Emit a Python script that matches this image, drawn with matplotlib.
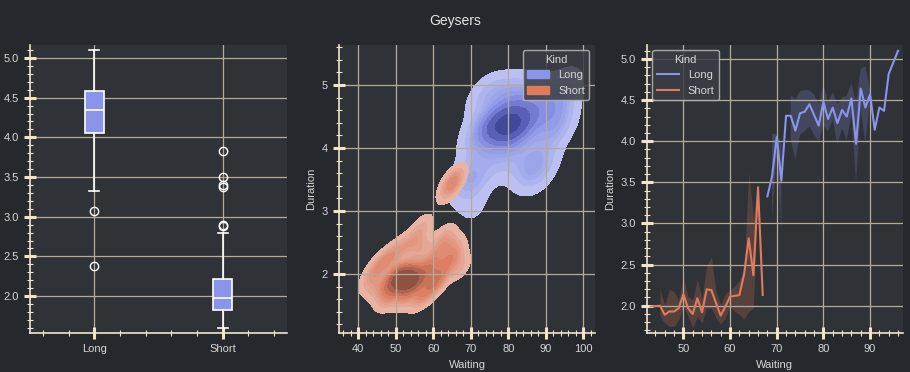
import numpy as np
import matplotlib
matplotlib.use("Agg")
import matplotlib.pyplot as plt
from matplotlib.ticker import AutoMinorLocator, MultipleLocator
from matplotlib.colors import LinearSegmentedColormap
from matplotlib.patches import Patch
from matplotlib.lines import Line2D

# ---- data ----
kinds = ["Long", "Short"]

# box plot stats of duration per kind
box_med = [4.35, 1.98]
box_q1 = [4.05, 1.83]
box_q3 = [4.58, 2.22]
box_lo = [3.32, 1.60]
box_hi = [5.10, 2.80]
box_fliers = [[3.07, 2.38], [2.88, 2.90, 3.37, 3.40, 3.50, 3.83]]

# representative (waiting, duration) points for the density plot
long_w = [68, 69, 70, 71, 72, 73, 74, 75, 76, 77, 78, 79, 80, 81, 82, 83, 84, 85, 86, 87,
          88, 89, 90, 91, 92, 93, 94, 96,
          70, 71, 69, 72, 74, 76, 78, 80, 82, 84, 86, 88, 90, 93, 95, 94, 90, 88, 85, 83,
          80, 77, 75, 73, 79, 80, 81, 82, 78, 79, 81, 83, 77, 80, 84, 76, 86, 89, 84, 95]
long_d = [3.33, 3.57, 4.05, 3.52, 4.31, 4.31, 4.13, 4.34, 4.36, 4.45, 4.32, 4.19, 4.48, 4.27,
          4.41, 4.22, 4.38, 4.30, 4.52, 3.97, 4.64, 4.41, 4.57, 4.14, 4.41, 4.37, 4.82, 5.10,
          3.30, 3.00, 3.60, 4.70, 4.90, 4.95, 4.85, 4.90, 4.95, 4.85, 4.90, 4.80, 4.85, 4.70,
          4.60, 4.30, 3.80, 3.50, 3.60, 3.90, 3.80, 3.90, 3.60, 3.90, 4.50, 4.40, 4.50, 4.30,
          4.30, 4.20, 4.60, 4.40, 4.50, 4.20, 4.60, 4.40, 3.55, 3.80, 3.70, 4.90]
short_w = [50, 51, 52, 53, 53, 54, 55, 52, 54, 51, 56, 49, 50, 55,
           43, 45, 45, 47, 47, 48, 49, 52, 52, 55, 57, 57, 58, 58, 59, 60, 60, 62, 62, 63,
           64, 65, 66, 67, 56, 61,
           64, 65, 66]
short_d = [1.90, 1.85, 1.95, 1.90, 2.00, 1.85, 1.95, 1.80, 2.00, 2.00, 1.90, 1.90, 2.00, 1.80,
           1.90, 1.80, 2.10, 1.70, 2.20, 1.60, 2.30, 2.45, 1.60, 2.50, 2.75, 2.40, 1.70, 2.00,
           2.20, 1.80, 2.10, 2.00, 2.40, 2.60, 2.20, 2.45, 2.30, 2.10, 1.60, 1.90,
           3.32, 3.45, 3.55]

# line plot: mean duration per waiting with confidence band (nan = no band)
long_x = [68, 69, 70, 71, 72, 73, 74, 75, 76, 77, 78, 79, 80, 81, 82, 83, 84, 85, 86, 87,
          88, 89, 90, 91, 92, 93, 94, 96]
long_mean = [3.33, 3.57, 4.05, 3.52, 4.31, 4.31, 4.13, 4.34, 4.36, 4.45, 4.32, 4.19, 4.48, 4.27,
             4.41, 4.22, 4.38, 4.30, 4.52, 3.97, 4.64, 4.41, 4.57, 4.14, 4.41, 4.37, 4.82, 5.10]
long_lo = [np.nan, 3.08, 3.85, 2.92, np.nan, 4.02, 3.78, 4.08, 4.12, 4.18, 4.08, 4.00, 4.20, 4.12,
           4.26, 3.96, 4.16, 4.02, 4.32, 3.51, 4.39, 3.98, 4.52, np.nan, np.nan, 4.10, np.nan, np.nan]
long_hi = [np.nan, 4.09, 4.09, 3.98, np.nan, 4.56, 4.51, 4.61, 4.62, 4.62, 4.57, 4.45, 4.69, 4.48,
           4.59, 4.45, 4.53, 4.55, 4.71, 4.47, 4.88, 4.91, 4.62, np.nan, np.nan, 4.63, np.nan, np.nan]

short_x = [43, 45, 46, 47, 48, 49, 50, 51, 52, 53, 54, 55, 56, 57, 58, 59, 60, 61, 62, 63,
           64, 65, 66, 67]
short_mean = [1.99, 2.00, 1.89, 1.93, 1.93, 1.97, 2.14, 1.97, 1.90, 2.09, 1.92, 2.20, 2.19, 2.03,
              1.88, 1.99, 2.11, 2.12, 2.13, 2.38, 2.82, 2.37, 3.44, 2.13]
short_lo = [np.nan, 1.87, 1.79, 1.75, 1.75, 1.83, 1.99, 1.87, 1.73, 1.87, 1.79, 1.97, 1.97, 1.85,
            1.78, 1.85, 1.99, 1.93, 1.89, 1.84, 1.93, 1.97, 3.38, np.nan]
short_hi = [np.nan, 2.20, 2.01, 2.20, 2.17, 2.07, 2.34, 2.11, 2.07, 2.32, 2.09, 2.49, 2.59, 2.17,
            2.01, 2.15, 2.19, 2.24, 2.31, 2.44, 3.62, 3.08, 3.50, np.nan]

# ---- style ----
FIG_BG = "#25282c"
AX_BG = "#2f3237"
CREAM = "#f2e4c6"
GRID = "#b4ab99"
TXT = "#d6d6d6"
C_LONG = "#8a94ea"
C_SHORT = "#e07b5c"

plt.rcParams["font.family"] = ["Liberation Sans", "DejaVu Sans"]
plt.rcParams["font.size"] = 8

fig = plt.figure(figsize=(9.1, 3.72), dpi=100, facecolor=FIG_BG)
fig.suptitle("Geysers", color="#e6e6e6", fontsize=10, y=0.962)

bottom, height = 0.1048, 0.775
ax1 = fig.add_axes([0.033, bottom, 0.2824, height])
ax2 = fig.add_axes([0.3725, bottom, 0.2813, height])
ax3 = fig.add_axes([0.7107, bottom, 0.2813, height])


def style(ax):
    ax.set_facecolor(AX_BG)
    for s in ["top", "right"]:
        ax.spines[s].set_visible(False)
    for s in ["left", "bottom"]:
        ax.spines[s].set_color(CREAM)
        ax.spines[s].set_linewidth(1.2)
    ax.tick_params(which="major", direction="inout", length=9, width=2.2, color=CREAM,
                   labelcolor=TXT, labelsize=8)
    ax.tick_params(which="minor", direction="inout", length=4, width=0.8, color=CREAM)
    ax.grid(True, which="major", color=GRID, linewidth=0.9)
    ax.xaxis.label.set_color(TXT)
    ax.yaxis.label.set_color(TXT)


# ---- left: boxplot ----
style(ax1)
stats = []
for i, k in enumerate(kinds):
    stats.append(dict(label=k, med=box_med[i], q1=box_q1[i], q3=box_q3[i],
                      whislo=box_lo[i], whishi=box_hi[i], fliers=box_fliers[i]))
ax1.bxp(stats, patch_artist=True,
        boxprops=dict(facecolor=C_LONG, edgecolor="white", linewidth=1.2),
        medianprops=dict(color="white", linewidth=1.2),
        whiskerprops=dict(color="white", linewidth=1.2),
        capprops=dict(color="white", linewidth=1.2),
        flierprops=dict(marker="o", markerfacecolor="none", markeredgecolor="white",
                        markersize=6, markeredgewidth=1))
ax1.set_xlim(0.5, 2.5)
ax1.set_ylim(1.535, 5.167)
ax1.yaxis.set_major_locator(MultipleLocator(0.5))
ax1.yaxis.set_minor_locator(AutoMinorLocator(5))
ax1.xaxis.set_minor_locator(AutoMinorLocator(5))

# ---- middle: bivariate kde ----
style(ax2)
ax2.set_axisbelow(False)
xlim2 = (34.85, 103.1)
ylim2 = (1.063, 5.64)
gx = np.linspace(xlim2[0], xlim2[1], 220)
gy = np.linspace(ylim2[0], ylim2[1], 220)
XX, YY = np.meshgrid(gx, gy)
bw = {"Long": 0.45, "Short": 0.32}


def kde(w, d, f):
    w = np.asarray(w, float)
    d = np.asarray(d, float)
    cov = np.cov(np.vstack([w, d])) * f ** 2
    inv = np.linalg.inv(cov)
    norm = 1.0 / (2 * np.pi * np.sqrt(np.linalg.det(cov))) / len(w)
    dx = XX[..., None] - w
    dy = YY[..., None] - d
    q = inv[0, 0] * dx * dx + 2 * inv[0, 1] * dx * dy + inv[1, 1] * dy * dy
    return norm * np.exp(-0.5 * q).sum(-1)


n_all = len(long_w) + len(short_w)
dens = {
    "Long": kde(long_w, long_d, bw["Long"]) * len(long_w) / n_all,
    "Short": kde(short_w, short_d, bw["Short"]) * len(short_w) / n_all,
}
# common iso-proportion levels (like seaborn levels=10, thresh=0.05)
vals = np.sort(np.concatenate([v.ravel() for v in dens.values()]))[::-1]
cum = np.cumsum(vals) / vals.sum()
iso = np.linspace(0.05, 1, 10)
levels = vals[np.clip(np.searchsorted(cum, 1 - iso), 0, len(vals) - 1)]

cmaps = {
    "Long": LinearSegmentedColormap.from_list("l", ["#c4c7f1", "#8791e6", "#4a50a4", "#3c4290"]),
    "Short": LinearSegmentedColormap.from_list("s", ["#e9bcae", "#dd8064", "#a15a47", "#7d4a3e"]),
}
for k in kinds:
    ax2.contourf(XX, YY, dens[k], levels=levels, cmap=cmaps[k], zorder=1)

ax2.set_xlim(*xlim2)
ax2.set_ylim(*ylim2)
ax2.xaxis.set_major_locator(MultipleLocator(10))
ax2.xaxis.set_minor_locator(AutoMinorLocator(5))
ax2.yaxis.set_major_locator(MultipleLocator(1))
ax2.yaxis.set_minor_locator(AutoMinorLocator(5))
ax2.set_xlabel("Waiting")
ax2.set_ylabel("Duration")
leg = ax2.legend(handles=[Patch(color=C_LONG, label="Long"), Patch(color=C_SHORT, label="Short")],
                 title="Kind", loc="upper right", fontsize=8, title_fontsize=8,
                 facecolor="#3a3d43", edgecolor="#b9b9b9", framealpha=0.85, labelcolor=TXT)
leg.get_title().set_color(TXT)
leg.set_zorder(5)

# ---- right: line plot ----
style(ax3)
for x, m, lo, hi, c in [(long_x, long_mean, long_lo, long_hi, C_LONG),
                        (short_x, short_mean, short_lo, short_hi, C_SHORT)]:
    ax3.fill_between(x, lo, hi, color=c, alpha=0.22, linewidth=0)
    ax3.plot(x, m, color=c, linewidth=1.5)
ax3.set_xlim(42.15, 97.0)
ax3.set_ylim(1.668, 5.174)
ax3.xaxis.set_major_locator(MultipleLocator(10))
ax3.xaxis.set_minor_locator(AutoMinorLocator(5))
ax3.yaxis.set_major_locator(MultipleLocator(0.5))
ax3.yaxis.set_minor_locator(AutoMinorLocator(5))
ax3.set_xlabel("Waiting")
ax3.set_ylabel("Duration")
leg3 = ax3.legend(handles=[Line2D([], [], color=C_LONG, lw=1.5, label="Long"),
                           Line2D([], [], color=C_SHORT, lw=1.5, label="Short")],
                  title="Kind", loc="upper left", fontsize=8, title_fontsize=8,
                  facecolor="#3a3d43", edgecolor="#b9b9b9", framealpha=0.85, labelcolor=TXT)
leg3.get_title().set_color(TXT)

fig.savefig("out.png", dpi=100, facecolor=FIG_BG)
